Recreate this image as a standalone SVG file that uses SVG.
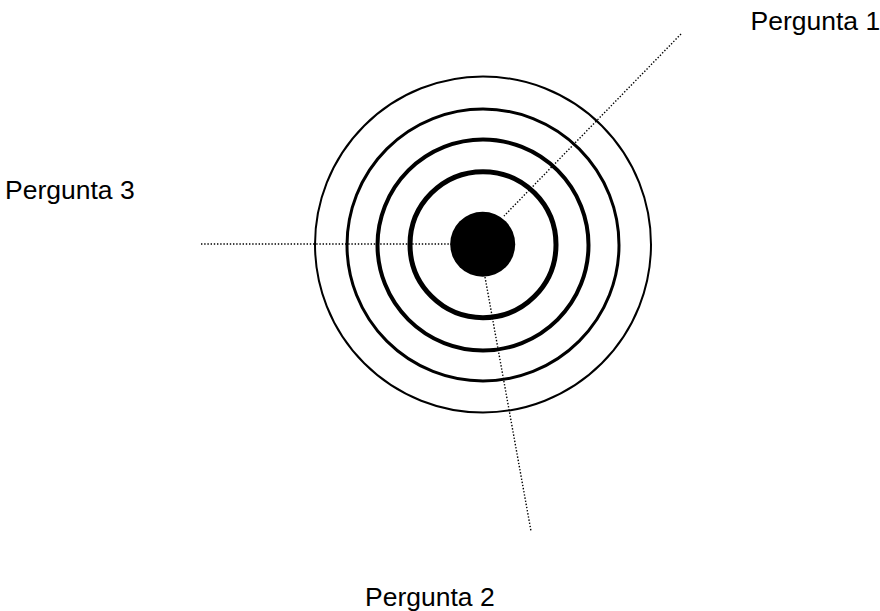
<svg xmlns="http://www.w3.org/2000/svg" width="880" height="611" viewBox="0 0 880 611">
<style>
.ring{fill:none;stroke:#000}
.dot{stroke:#000;stroke-width:1.4;stroke-dasharray:1.4 1.8;fill:none}
.lbl{font-family:"Liberation Sans",Arial,sans-serif;font-size:26.5px;fill:#000}
</style>
<rect width="880" height="611" fill="#fff"/>
<g id="connectors">
<line class="dot" x1="201" y1="244" x2="451" y2="244"/>
<line class="dot" x1="681" y1="34" x2="504" y2="216"/>
<line class="dot" x1="485" y1="277" x2="531" y2="531"/>
</g>
<g id="target">
<circle class="ring" cx="483" cy="244.5" r="168" stroke-width="2"/>
<circle class="ring" cx="483" cy="245" r="136" stroke-width="3"/>
<circle class="ring" cx="483" cy="245" r="105.5" stroke-width="4"/>
<circle class="ring" cx="483" cy="244.7" r="73" stroke-width="5"/>
<circle cx="482.7" cy="244.3" r="32.5" fill="#000"/>
</g>
<g id="pergunta1"><text class="lbl" x="750.5" y="29.5">Pergunta 1</text></g>
<g id="pergunta2"><text class="lbl" x="365" y="606">Pergunta 2</text></g>
<g id="pergunta3"><text class="lbl" x="5" y="199">Pergunta 3</text></g>
</svg>
